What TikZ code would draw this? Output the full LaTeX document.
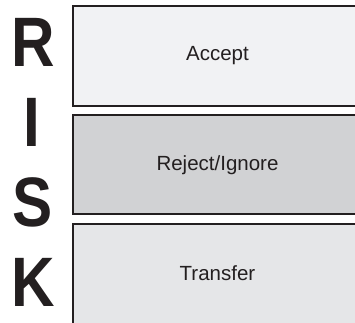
\documentclass[tikz,border=0pt]{standalone}
\usepackage{fontspec}
\usepackage{graphicx}
\setmainfont{Liberation Sans}
\definecolor{ink}{HTML}{231F20}
\definecolor{acceptfill}{HTML}{F1F2F4}
\definecolor{rejectfill}{HTML}{D1D2D4}
\definecolor{transferfill}{HTML}{E5E6E8}
\begin{document}
\begin{tikzpicture}[x=1pt,y=-1pt,
  band/.style={minimum width=289pt, minimum height=99pt, inner sep=0pt,
    font=\fontsize{20.5}{24}\selectfont, text=ink},
  rim/.style={draw=ink, line width=2pt, line join=miter},
  letter/.style={inner sep=0pt, text=ink, font=\fontsize{70}{80}\selectfont\bfseries}]
  % the bands run on past the right and bottom edges of the page
  \useasboundingbox (0,0) rectangle (355,322);
  \clip (0,0) rectangle (355,322);
  % option bands
  \node[band, fill=acceptfill]   (accept)   at (217.5,56)     {Accept};
  \node[band, fill=rejectfill]   (reject)   at (217.5,164.75) {Reject/Ignore};
  \node[band, fill=transferfill] (transfer) at (217.5,273.5)  {Transfer};
  % outlines: top, left and bottom sides only, the right side lies off the page
  \draw[rim] (accept.north east) -- (accept.north west)
             -- (accept.south west) -- (accept.south east);
  \draw[rim] (reject.north east) -- (reject.north west)
             -- (reject.south west) -- (reject.south east);
  \draw[rim] (transfer.north east) -- (transfer.north west)
             -- (transfer.south west);
  % RISK spelled down the left side
  \node[letter] (r) at (33.5,42)    {\scalebox{0.86}[1]{R}};
  \node[letter] (i) at (32,122.5)   {\scalebox{0.86}[1]{I}};
  \node[letter] (s) at (33,202.5)   {\scalebox{0.86}[1]{S}};
  \node[letter] (k) at (33.5,282.5) {\scalebox{0.86}[1]{K}};
\end{tikzpicture}
\end{document}
